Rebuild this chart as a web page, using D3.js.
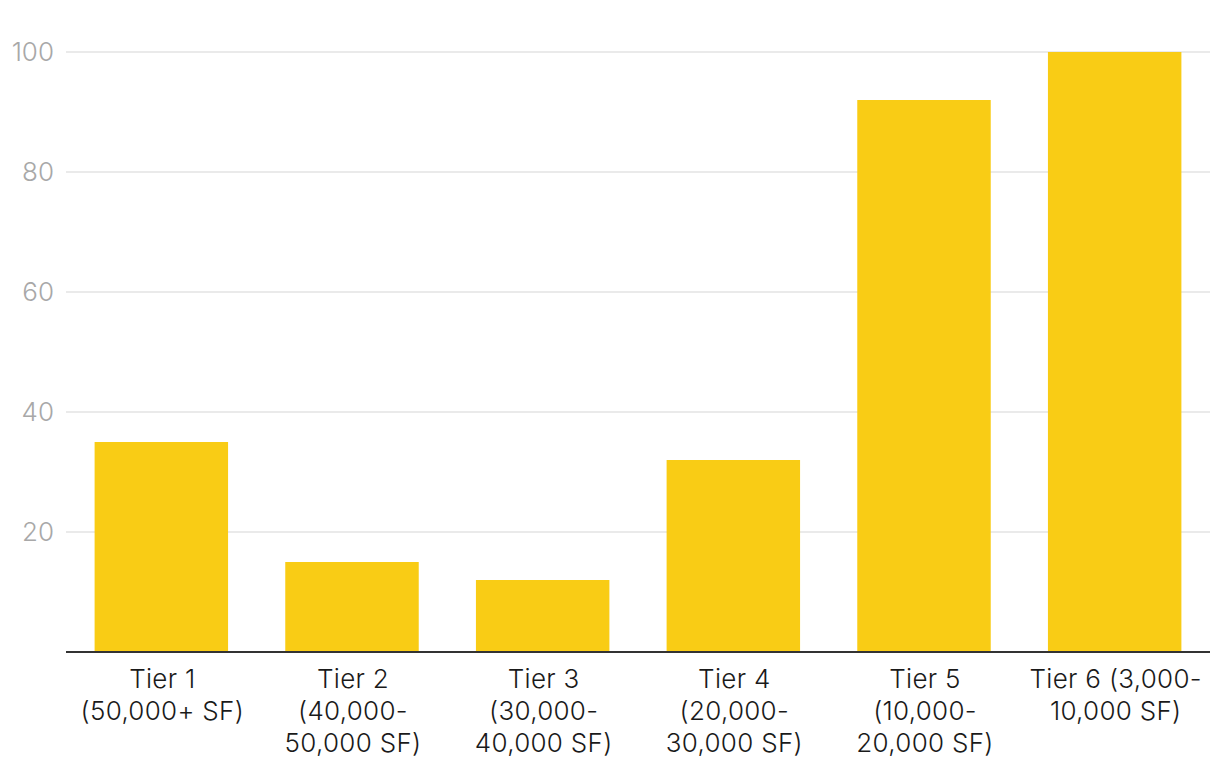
<!DOCTYPE html>
<html><head><meta charset="utf-8">
<script src="https://cdn.jsdelivr.net/npm/d3@7"></script>
<style>body{margin:0;background:#fff;} svg{display:block;font-family:Inter, sans-serif;}</style>
</head><body>
<svg id="c" width="1220" height="774"></svg>
<script>
const categories = ["Tier 1\n(50,000+ SF)","Tier 2\n(40,000-\n50,000 SF)","Tier 3\n(30,000-\n40,000 SF)","Tier 4\n(20,000-\n30,000 SF)","Tier 5\n(10,000-\n20,000 SF)","Tier 6 (3,000-\n10,000 SF)"];
const values = [35, 15, 12, 32, 92, 100];
const yTicks = [20, 40, 60, 80, 100];

const svg = d3.select("#c");
const m = {left: 66, right: 10, top: 52, bottom: 122};
const W = 1220, H = 774;
const x = d3.scaleBand().domain(categories).range([m.left, W - m.right]).paddingInner(0.3).paddingOuter(0.15);
const y = d3.scaleLinear().domain([0, 100]).range([H - m.bottom, m.top]);

svg.append("g").selectAll("line").data(yTicks).join("line")
  .attr("x1", m.left).attr("x2", W - m.right)
  .attr("y1", d => y(d)).attr("y2", d => y(d))
  .attr("stroke", "#e3e3e3").attr("stroke-width", 1.5);

svg.append("g").selectAll("text").data(yTicks).join("text")
  .attr("x", 54).attr("y", d => y(d)).attr("dy", "0.36em")
  .attr("text-anchor", "end").attr("fill", "#a8a8a8").attr("font-size", 26).attr("font-weight", 300)
  .text(d => d);

svg.append("g").selectAll("rect").data(values).join("rect")
  .attr("x", (d, i) => x(categories[i])).attr("width", x.bandwidth())
  .attr("y", d => y(d)).attr("height", d => y(0) - y(d))
  .attr("fill", "#F9CC15");

svg.append("line").attr("x1", m.left).attr("x2", W - m.right)
  .attr("y1", y(0)).attr("y2", y(0)).attr("stroke", "#333").attr("stroke-width", 2);

const xl = svg.append("g").selectAll("text").data(categories).join("text")
  .attr("text-anchor", "middle").attr("fill", "#1a1a1a").attr("font-size", 26).attr("font-weight", 300)
  .attr("letter-spacing", 0.3)
  .attr("x", d => x(d) + x.bandwidth() / 2).attr("y", y(0) + 36);
xl.each(function(d) {
  const t = d3.select(this);
  d.split("\n").forEach((ln, k) => {
    t.append("tspan").attr("x", x(d) + x.bandwidth() / 2 + 1).attr("dy", k === 0 ? 0 : 32).text(ln);
  });
});
</script>
</body></html>
